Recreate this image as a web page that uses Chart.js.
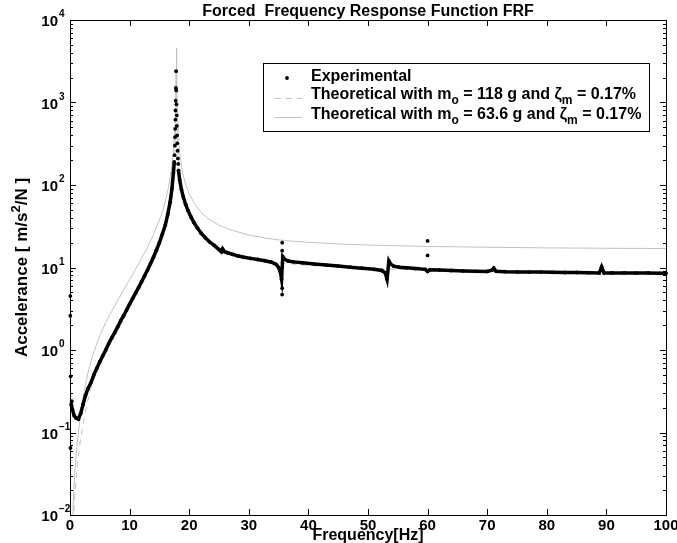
<!DOCTYPE html>
<html>
<head>
<meta charset="utf-8">
<script src="https://cdn.jsdelivr.net/npm/chart.js@4.4.0/dist/chart.umd.min.js"></script>
<style>
    body { margin: 0; background: #fff; }
    canvas { display: block; }
</style>
</head>
<body>
<canvas id="frf" width="677" height="543"></canvas>
<script>
// measured, below resonance
const expLowFreq = [0.2, 0.4, 0.7, 1.0, 1.4, 1.8, 2.2, 2.6, 3.0, 3.5, 4.0, 4.5, 5.0, 5.5, 6.0, 6.5, 7.0, 7.5, 8.0, 8.5, 9.0, 9.5, 10, 10.5, 11, 11.5, 12, 12.5, 13, 13.5, 14, 14.5, 15, 15.5, 16, 16.4, 16.8, 17.1, 17.35, 17.5];
const expLowAcc = [0.22, 0.19, 0.16, 0.15, 0.145, 0.17, 0.22, 0.28, 0.34, 0.40, 0.50, 0.60, 0.72, 0.85, 1.0, 1.2, 1.4, 1.62, 1.9, 2.25, 2.6, 3.05, 3.6, 4.2, 4.9, 5.7, 6.7, 7.9, 9.3, 11.1, 13.3, 16.2, 20, 25.5, 33, 44, 62, 90, 140, 190];

// measured, above resonance
const expHighFreq = [18.2, 18.4, 18.7, 19.0, 19.4, 19.8, 20.3, 20.8, 21.4, 22, 22.7, 23.4, 24.2, 25.0, 25.4, 25.6, 25.9, 26.5, 27.3, 28.2, 29.2, 30.3, 31.5, 32.7, 33.8, 34.6, 35.0, 35.3, 35.5, 35.7, 36.0, 36.6, 37.5, 39, 41, 43, 45, 47, 49, 51, 52.3, 52.9, 53.2, 53.5, 53.8, 54.3, 55.2, 56.5, 58, 59.6, 60.0, 60.4, 62, 64, 66, 68, 70, 70.8, 71.1, 71.5, 73, 75, 77, 79, 81, 83, 85, 87, 88.8, 89.2, 89.6, 91, 93, 95, 97, 99, 100];
const expHighAcc = [150, 115, 88, 72, 58, 49, 41, 35, 30, 26, 23, 20.5, 18.5, 16.5, 15.5, 16.8, 15.6, 15.0, 14.4, 13.8, 13.3, 12.9, 12.5, 12.1, 11.6, 10.9, 10.0, 8.8, 7.2, 13.5, 12.6, 12.0, 11.7, 11.4, 11.0, 10.7, 10.4, 10.1, 9.8, 9.5, 9.2, 8.6, 7.2, 12.0, 11.0, 10.4, 10.1, 9.9, 9.7, 9.5, 9.0, 9.4, 9.3, 9.2, 9.1, 9.0, 8.95, 9.3, 9.8, 9.0, 8.9, 8.85, 8.8, 8.8, 8.75, 8.7, 8.7, 8.65, 8.6, 10.2, 8.6, 8.6, 8.6, 8.55, 8.6, 8.5, 8.5];

// sparse samples through the peak
const peakFreq = [17.55, 17.6, 17.62, 17.65, 17.68, 17.7, 17.73, 17.76, 17.8, 17.83, 17.86, 17.9, 17.93, 17.96, 18.0, 18.05, 18.1, 18.15];
const peakAcc = [230, 300, 380, 480, 620, 800, 1050, 1500, 2400, 1400, 950, 700, 520, 400, 320, 260, 210, 180];

// stray samples
const strayFreq = [0.05, 0.05, 0.1, 0.3, 0.08, 35.6, 35.6, 35.6, 35.6, 60.0, 60.0];
const strayAcc = [4.5, 2.6, 0.48, 0.24, 0.065, 20, 16, 5.6, 4.7, 21, 14];

// theory, m_o = 118 g
const th118Freq = [0.3, 0.6, 0.8, 1.0, 1.3, 1.6, 2.0, 2.5, 3.0, 3.5, 4.0, 5.0, 6.0, 7.0, 8.0, 9.0, 10, 11, 12, 13, 14, 15, 15.5, 16, 16.5, 17, 17.3, 17.5, 17.65, 17.75, 17.8, 17.85, 17.9, 17.95, 18.05, 18.2, 18.4, 18.7, 19, 19.5, 20, 21, 22, 23, 25, 27, 30, 33, 36, 40, 45, 50, 60, 70, 80, 90, 100];
const th118Acc = [0.0024, 0.0096, 0.017, 0.027, 0.045, 0.068, 0.107, 0.168, 0.245, 0.34, 0.445, 0.72, 1.07, 1.5, 2.11, 2.86, 3.85, 5.1, 6.95, 9.4, 13.4, 20.3, 25.5, 34.5, 49, 82, 130, 200, 350, 700, 1300, 2500, 1300, 700, 360, 210, 135, 90, 70, 52, 42, 31, 25, 21.4, 17.4, 15.2, 13.2, 12.0, 11.2, 10.6, 10.1, 9.7, 9.3, 9.05, 8.92, 8.84, 8.75];

// theory, m_o = 63.6 g
const th636Freq = th118Freq;
const th636Acc = [0.0045, 0.018, 0.032, 0.05, 0.086, 0.13, 0.22, 0.35, 0.52, 0.72, 0.95, 1.5, 2.15, 2.95, 4.0, 5.35, 7.1, 9.5, 12.9, 17.4, 24.9, 37.7, 47, 64, 91, 152, 240, 370, 650, 1300, 2400, 4600, 2400, 1300, 670, 390, 250, 167, 130, 97, 78, 58, 46.5, 40, 32.5, 28.5, 24.8, 22.6, 21.2, 20.2, 19.3, 18.7, 18.0, 17.6, 17.3, 17.1, 17.0];

const xTicks = [0, 10, 20, 30, 40, 50, 60, 70, 80, 90, 100];
const yExponents = [-2, -1, 0, 1, 2, 3, 4];

const legendLabels = [
    [['Experimental']],
    [['Theoretical with m'], ['o', 'sub'], [' = 118 g and ζ'], ['m', 'sub'], [' = 0.17%']],
    [['Theoretical with m'], ['o', 'sub'], [' = 63.6 g and ζ'], ['m', 'sub'], [' = 0.17%']]
];

const FONT = '"Liberation Sans", Arial, sans-serif';
const GRAY = '#c2c2c2';

const pts = (xs, ys) => xs.map((x, i) => ({x: x, y: ys[i]}));

function drawRich(ctx, parts, x, y, size) {
    parts.forEach((p) => {
        let small = p[1] === 'sub' || p[1] === 'sup';
        ctx.font = 'bold ' + (small ? size - 4 : size) + 'px ' + FONT;
        let dy = p[1] === 'sub' ? 5 : (p[1] === 'sup' ? -7 : 0);
        ctx.fillText(p[0], x, y + dy);
        x += ctx.measureText(p[0]).width;
    });
    return x;
}

function richWidth(ctx, parts, size) {
    let w = 0;
    parts.forEach((p) => {
        let small = p[1] === 'sub' || p[1] === 'sup';
        ctx.font = 'bold ' + (small ? size - 4 : size) + 'px ' + FONT;
        w += ctx.measureText(p[0]).width;
    });
    return w;
}

const matlabFrame = {
    id: 'matlabFrame',
    afterDraw: (chart) => {
        const {ctx, chartArea: a, scales: {x, y}} = chart;
        ctx.save();
        ctx.strokeStyle = '#000';
        ctx.fillStyle = '#000';
        ctx.lineWidth = 1;
        ctx.strokeRect(a.left + 0.5, a.top + 0.5, a.right - a.left, a.bottom - a.top);

        ctx.beginPath();
        xTicks.forEach((v) => {
            let px = Math.round(x.getPixelForValue(v)) + 0.5;
            ctx.moveTo(px, a.bottom); ctx.lineTo(px, a.bottom - 6);
            ctx.moveTo(px, a.top); ctx.lineTo(px, a.top + 6);
        });
        yExponents.forEach((e, i) => {
            let py = Math.round(y.getPixelForValue(Math.pow(10, e))) + 0.5;
            ctx.moveTo(a.left, py); ctx.lineTo(a.left + 6, py);
            ctx.moveTo(a.right, py); ctx.lineTo(a.right - 6, py);
            if (i < yExponents.length - 1) {
                for (let m = 2; m < 10; m++) {
                    let pm = Math.round(y.getPixelForValue(m * Math.pow(10, e))) + 0.5;
                    ctx.moveTo(a.left, pm); ctx.lineTo(a.left + 3, pm);
                    ctx.moveTo(a.right, pm); ctx.lineTo(a.right - 3, pm);
                }
            }
        });
        ctx.stroke();

        // tick labels
        ctx.textBaseline = 'alphabetic';
        ctx.font = 'bold 15px ' + FONT;
        ctx.textAlign = 'center';
        xTicks.forEach((v) => {
            ctx.fillText(String(v), x.getPixelForValue(v), a.bottom + 15);
        });
        yExponents.forEach((e) => {
            let py = y.getPixelForValue(Math.pow(10, e));
            ctx.textAlign = 'right';
            ctx.font = 'bold 15px ' + FONT;
            ctx.fillText('10', a.left - 12, py + 6);
            ctx.textAlign = 'left';
            ctx.font = 'bold 10px ' + FONT;
            ctx.fillText(String(e).replace('-', '\u2212'), a.left - 11, py - 3);
        });

        // titles
        ctx.textAlign = 'center';
        ctx.font = 'bold 16px ' + FONT;
        ctx.fillText('Forced  Frequency Response Function FRF', (a.left + a.right) / 2, a.top - 4);
        ctx.font = 'bold 16px ' + FONT;
        ctx.fillText('Frequency[Hz]', (a.left + a.right) / 2, a.bottom + 25);

        ctx.save();
        ctx.translate(21, (a.top + a.bottom) / 2);
        ctx.rotate(-Math.PI / 2);
        ctx.textAlign = 'left';
        let ylab = [['Accelerance [ m/s'], ['2', 'sup'], ['/N ]']];
        drawRich(ctx, ylab, -richWidth(ctx, ylab, 17) / 2, 6, 17);
        ctx.restore();

        // legend
        let lx = 263.5, ly = 63.5, lw = 386, lh = 68;
        ctx.fillStyle = '#fff';
        ctx.fillRect(lx, ly, lw, lh);
        ctx.strokeStyle = '#000';
        ctx.strokeRect(lx, ly, lw, lh);
        ctx.fillStyle = '#000';
        ctx.textAlign = 'left';
        let rows = [78, 98, 117];
        ctx.beginPath();
        ctx.arc(287, rows[0], 1.9, 0, Math.PI * 2);
        ctx.fill();
        ctx.strokeStyle = GRAY;
        ctx.setLineDash([6, 5]);
        ctx.beginPath();
        ctx.moveTo(275, rows[1] + 0.5); ctx.lineTo(302, rows[1] + 0.5);
        ctx.stroke();
        ctx.setLineDash([]);
        ctx.beginPath();
        ctx.moveTo(275, rows[2] + 0.5); ctx.lineTo(302, rows[2] + 0.5);
        ctx.stroke();
        ctx.fillStyle = '#000';
        drawRich(ctx, legendLabels[0], 311, 81, 16);
        drawRich(ctx, legendLabels[1], 311, 99, 16);
        drawRich(ctx, legendLabels[2], 311, 119, 16);
        ctx.restore();
    }
};

const dotStyle = {
    showLine: false,
    pointRadius: 1.9,
    pointBackgroundColor: '#000',
    pointBorderWidth: 0,
    clip: 4
};

new Chart(document.getElementById('frf').getContext('2d'), {
    type: 'scatter',
    data: {
        datasets: [
            Object.assign({label: 'Experimental', data: pts(expLowFreq, expLowAcc)}, dotStyle,
                {showLine: true, borderColor: '#000', borderWidth: 3.5}),
            Object.assign({label: 'exp high', data: pts(expHighFreq, expHighAcc)}, dotStyle,
                {showLine: true, borderColor: '#000', borderWidth: 3.5}),
            Object.assign({label: 'exp peak', data: pts(peakFreq, peakAcc)}, dotStyle),
            Object.assign({label: 'exp stray', data: pts(strayFreq, strayAcc)}, dotStyle),
            {
                label: 'Theoretical 118 g',
                data: pts(th118Freq, th118Acc),
                showLine: true,
                borderColor: GRAY,
                borderWidth: 1,
                borderDash: [6, 5],
                pointRadius: 0
            },
            {
                label: 'Theoretical 63.6 g',
                data: pts(th636Freq, th636Acc),
                showLine: true,
                borderColor: GRAY,
                borderWidth: 1,
                pointRadius: 0
            }
        ]
    },
    options: {
        responsive: false,
        animation: false,
        layout: {padding: {left: 70, right: 11, top: 20, bottom: 28}},
        plugins: {legend: {display: false}, tooltip: {enabled: false}},
        scales: {
            x: {
                type: 'linear', min: 0, max: 100,
                grid: {display: false}, border: {display: false}, ticks: {display: false},
                afterFit: (s) => { s.height = 0; }
            },
            y: {
                type: 'logarithmic', min: 0.01, max: 10000,
                grid: {display: false}, border: {display: false}, ticks: {display: false},
                afterFit: (s) => { s.width = 0; }
            }
        }
    },
    plugins: [matlabFrame]
});
</script>
</body>
</html>
